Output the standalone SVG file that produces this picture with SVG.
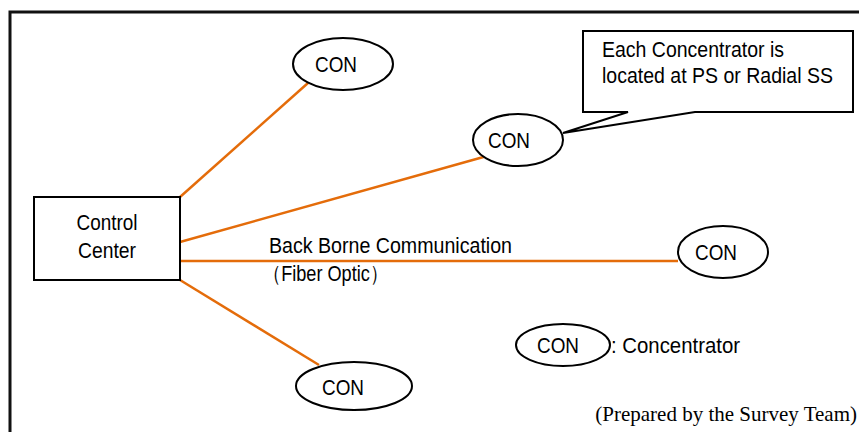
<svg xmlns="http://www.w3.org/2000/svg" width="859" height="432" viewBox="0 0 859 432">
  <style>
    .frame { fill: none; stroke: #111; stroke-width: 3; }
    .node { fill: #fff; stroke: #000; stroke-width: 2; }
    .link { stroke: #E46C0A; stroke-width: 2.5; fill: none; }
    .lbl { font-family: "Liberation Sans", Arial, sans-serif; font-size: 22px; fill: #000; }
    .mid { text-anchor: middle; }
    .note { font-family: "Liberation Serif", "Times New Roman", serif; font-size: 21px; fill: #000; }
  </style>

  <!-- outer frame (left and top edges) -->
  <path class="frame" d="M10,432 V12 H859"/>

  <!-- fiber links from the control center -->
  <g id="connectors">
    <line class="link" x1="180" y1="197" x2="308" y2="83"/>
    <line class="link" x1="180" y1="242" x2="487" y2="156"/>
    <line class="link" x1="180" y1="261" x2="678" y2="261"/>
    <line class="link" x1="180" y1="280" x2="319" y2="365"/>
  </g>

  <g id="control-center">
    <rect class="node" x="34" y="197" width="146" height="83"/>
    <text class="lbl mid" x="107" y="230" textLength="61" lengthAdjust="spacingAndGlyphs">Control</text>
    <text class="lbl mid" x="107" y="258" textLength="58" lengthAdjust="spacingAndGlyphs">Center</text>
  </g>

  <g id="con-top">
    <ellipse class="node" cx="343" cy="64" rx="50" ry="26"/>
    <text class="lbl mid" x="336" y="72" textLength="42" lengthAdjust="spacingAndGlyphs">CON</text>
  </g>

  <g id="con-upper">
    <ellipse class="node" cx="518" cy="140" rx="45" ry="26"/>
    <text class="lbl mid" x="509" y="148" textLength="42" lengthAdjust="spacingAndGlyphs">CON</text>
  </g>

  <g id="con-right">
    <ellipse class="node" cx="723" cy="252" rx="45" ry="26"/>
    <text class="lbl mid" x="716" y="260" textLength="42" lengthAdjust="spacingAndGlyphs">CON</text>
  </g>

  <g id="con-bottom">
    <ellipse class="node" cx="354" cy="386" rx="58" ry="24"/>
    <text class="lbl mid" x="343" y="395" textLength="42" lengthAdjust="spacingAndGlyphs">CON</text>
  </g>

  <!-- callout attached to the upper concentrator -->
  <g id="callout">
    <path class="node" d="M583,31 H853 V112 H695 L563,133 L628,112 H583 Z"/>
    <text class="lbl" x="602" y="57" textLength="182" lengthAdjust="spacingAndGlyphs">Each Concentrator is</text>
    <text class="lbl" x="602" y="83" textLength="231" lengthAdjust="spacingAndGlyphs">located at PS or Radial SS</text>
  </g>

  <g id="link-label">
    <text class="lbl" x="269" y="253" textLength="243" lengthAdjust="spacingAndGlyphs">Back Borne Communication</text>
    <text class="lbl" x="263" y="281" textLength="125" lengthAdjust="spacingAndGlyphs">（Fiber Optic）</text>
  </g>

  <g id="legend">
    <ellipse class="node" cx="563" cy="345" rx="47" ry="21"/>
    <text class="lbl mid" x="558" y="353" textLength="42" lengthAdjust="spacingAndGlyphs">CON</text>
    <text class="lbl" x="611" y="353" textLength="129" lengthAdjust="spacingAndGlyphs">: Concentrator</text>
  </g>

  <text class="note" x="857" y="421" text-anchor="end">(Prepared by the Survey Team)</text>
</svg>
